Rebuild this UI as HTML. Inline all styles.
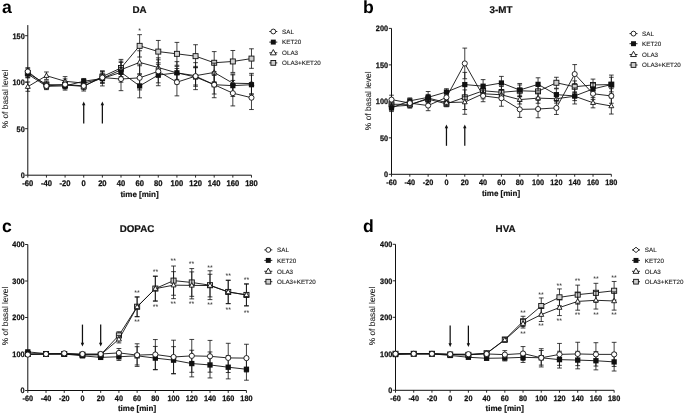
<!DOCTYPE html>
<html><head><meta charset="utf-8"><title>Figure</title>
<style>
html,body{margin:0;padding:0;background:#fff;}
body{width:684px;height:414px;overflow:hidden;font-family:"Liberation Sans",sans-serif;}
svg{display:block;text-rendering:geometricPrecision;filter:blur(0.3px);font-family:"Liberation Sans",sans-serif;}
.tk{font-size:7.85px;font-weight:bold;fill:#111;stroke:#111;stroke-width:0.25px;}
.xt{font-size:8px;font-weight:bold;fill:#111;stroke:#111;stroke-width:0.2px;}
.yl{font-size:8.4px;fill:#262626;stroke:#262626;stroke-width:0.1px;}
.ti{font-size:9.8px;font-weight:bold;fill:#111;stroke:#111;stroke-width:0.2px;}
.pl{font-size:17.6px;font-weight:bold;fill:#000;}
.lg{font-size:6.25px;fill:#222;stroke:#222;stroke-width:0.12px;}
.st{font-size:7px;fill:#222;}
</style></head><body>
<svg width="684" height="414" viewBox="0 0 684 414">
<rect width="684" height="414" fill="#fff"/>
<g id="pa">
<path d="M27.8 25.1V175.2H251.48" fill="none" stroke="#111" stroke-width="1"/>
<path d="M25.1 175.2H27.8M25.1 128.7H27.8M25.1 82.2H27.8M25.1 35.7H27.8M27.8 175.2v2.4M46.44 175.2v2.4M65.08 175.2v2.4M83.72 175.2v2.4M102.36 175.2v2.4M121 175.2v2.4M139.64 175.2v2.4M158.28 175.2v2.4M176.92 175.2v2.4M195.56 175.2v2.4M214.2 175.2v2.4M232.84 175.2v2.4M251.48 175.2v2.4" stroke="#111" stroke-width="0.9" fill="none"/>
<text class="tk" transform="translate(24.7 178) scale(0.93 1)" text-anchor="end">0</text>
<text class="tk" transform="translate(24.7 131.5) scale(0.93 1)" text-anchor="end">50</text>
<text class="tk" transform="translate(24.7 85) scale(0.93 1)" text-anchor="end">100</text>
<text class="tk" transform="translate(24.7 38.5) scale(0.93 1)" text-anchor="end">150</text>
<text class="tk" transform="translate(27.8 186.1) scale(0.93 1)" text-anchor="middle" style="font-size:8.2px">-60</text>
<text class="tk" transform="translate(46.44 186.1) scale(0.93 1)" text-anchor="middle" style="font-size:8.2px">-40</text>
<text class="tk" transform="translate(65.08 186.1) scale(0.93 1)" text-anchor="middle" style="font-size:8.2px">-20</text>
<text class="tk" transform="translate(83.72 186.1) scale(0.93 1)" text-anchor="middle" style="font-size:8.2px">0</text>
<text class="tk" transform="translate(102.36 186.1) scale(0.93 1)" text-anchor="middle" style="font-size:8.2px">20</text>
<text class="tk" transform="translate(121 186.1) scale(0.93 1)" text-anchor="middle" style="font-size:8.2px">40</text>
<text class="tk" transform="translate(139.64 186.1) scale(0.93 1)" text-anchor="middle" style="font-size:8.2px">60</text>
<text class="tk" transform="translate(158.28 186.1) scale(0.93 1)" text-anchor="middle" style="font-size:8.2px">80</text>
<text class="tk" transform="translate(176.92 186.1) scale(0.93 1)" text-anchor="middle" style="font-size:8.2px">100</text>
<text class="tk" transform="translate(195.56 186.1) scale(0.93 1)" text-anchor="middle" style="font-size:8.2px">120</text>
<text class="tk" transform="translate(214.2 186.1) scale(0.93 1)" text-anchor="middle" style="font-size:8.2px">140</text>
<text class="tk" transform="translate(232.84 186.1) scale(0.93 1)" text-anchor="middle" style="font-size:8.2px">160</text>
<text class="tk" transform="translate(251.48 186.1) scale(0.93 1)" text-anchor="middle" style="font-size:8.2px">180</text>
<text class="xt" x="139.5" y="196.8" text-anchor="middle">time [min]</text>
<text class="yl" transform="translate(7.7 99) rotate(-90)" text-anchor="middle">% of basal level</text>
<text class="ti" x="139.5" y="13.2" text-anchor="middle">DA</text>
<text class="pl" x="2" y="13.2">a</text>
<path d="M83.72 123.5V103.5" stroke="#111" stroke-width="1.25"/><path d="M83.72 101.5l1.7 3.8h-3.4z" fill="#111"/>
<path d="M102.36 123.5V103.5" stroke="#111" stroke-width="1.25"/><path d="M102.36 101.5l1.7 3.8h-3.4z" fill="#111"/>
<path d="M27.8 68.25V77.55M25.45 68.25h4.7M25.45 77.55h4.7M46.44 80.9V88.34M44.09 80.9h4.7M44.09 88.34h4.7M65.08 81.27V88.71M62.73 81.27h4.7M62.73 88.71h4.7M83.72 81.73V91.03M81.37 81.73h4.7M81.37 91.03h4.7M102.36 71.04V82.2M100.01 71.04h4.7M100.01 82.2h4.7M121 59.41V76.53M118.65 59.41h4.7M118.65 76.53h4.7M139.64 34.68V57M137.29 34.68h4.7M137.29 57h4.7M158.28 40.44V62.76M155.93 40.44h4.7M155.93 62.76h4.7M176.92 42.4V65.27M174.57 42.4h4.7M174.57 65.27h4.7M195.56 44.72V67.6M193.21 44.72h4.7M193.21 67.6h4.7M214.2 51.6V73.92M211.85 51.6h4.7M211.85 73.92h4.7M232.84 50.49V72.43M230.49 50.49h4.7M230.49 72.43h4.7M251.48 48.81V68.34M249.13 48.81h4.7M249.13 68.34h4.7" stroke="#111" stroke-width="0.8" fill="none"/>
<polyline points="27.8,72.9 46.44,84.62 65.08,84.99 83.72,86.38 102.36,76.62 121,67.97 139.64,45.84 158.28,51.6 176.92,53.83 195.56,56.16 214.2,62.76 232.84,61.46 251.48,58.58" fill="none" stroke="#111" stroke-width="0.9"/>
<rect x="25.3" y="70.4" width="5" height="5" fill="#cfcfcf" stroke="#111" stroke-width="0.9"/>
<rect x="43.94" y="82.12" width="5" height="5" fill="#cfcfcf" stroke="#111" stroke-width="0.9"/>
<rect x="62.58" y="82.49" width="5" height="5" fill="#cfcfcf" stroke="#111" stroke-width="0.9"/>
<rect x="81.22" y="83.88" width="5" height="5" fill="#cfcfcf" stroke="#111" stroke-width="0.9"/>
<rect x="99.86" y="74.12" width="5" height="5" fill="#cfcfcf" stroke="#111" stroke-width="0.9"/>
<rect x="118.5" y="65.47" width="5" height="5" fill="#cfcfcf" stroke="#111" stroke-width="0.9"/>
<rect x="137.14" y="43.34" width="5" height="5" fill="#cfcfcf" stroke="#111" stroke-width="0.9"/>
<rect x="155.78" y="49.1" width="5" height="5" fill="#cfcfcf" stroke="#111" stroke-width="0.9"/>
<rect x="174.42" y="51.33" width="5" height="5" fill="#cfcfcf" stroke="#111" stroke-width="0.9"/>
<rect x="193.06" y="53.66" width="5" height="5" fill="#cfcfcf" stroke="#111" stroke-width="0.9"/>
<rect x="211.7" y="60.26" width="5" height="5" fill="#cfcfcf" stroke="#111" stroke-width="0.9"/>
<rect x="230.34" y="58.96" width="5" height="5" fill="#cfcfcf" stroke="#111" stroke-width="0.9"/>
<rect x="248.98" y="56.08" width="5" height="5" fill="#cfcfcf" stroke="#111" stroke-width="0.9"/>
<path d="M27.8 82.01V91.31M25.45 82.01h4.7M25.45 91.31h4.7M46.44 71.97V79.41M44.09 71.97h4.7M44.09 79.41h4.7M65.08 76.62V85.92M62.73 76.62h4.7M62.73 85.92h4.7M83.72 79.41V86.85M81.37 79.41h4.7M81.37 86.85h4.7M102.36 73.83V83.13M100.01 73.83h4.7M100.01 83.13h4.7M121 61.18V78.29M118.65 61.18h4.7M118.65 78.29h4.7M139.64 50.77V74.02M137.29 50.77h4.7M137.29 74.02h4.7M158.28 57.83V77.18M155.93 57.83h4.7M155.93 77.18h4.7M176.92 66.39V79.41M174.57 66.39h4.7M174.57 79.41h4.7M195.56 66.39V84.99M193.21 66.39h4.7M193.21 84.99h4.7M214.2 63.13V81.73M211.85 63.13h4.7M211.85 81.73h4.7M232.84 73.92V92.52M230.49 73.92h4.7M230.49 92.52h4.7M251.48 73.36V93.82M249.13 73.36h4.7M249.13 93.82h4.7" stroke="#111" stroke-width="0.8" fill="none"/>
<polyline points="27.8,86.66 46.44,75.69 65.08,81.27 83.72,83.13 102.36,78.48 121,69.74 139.64,62.39 158.28,67.51 176.92,72.9 195.56,75.69 214.2,72.43 232.84,83.22 251.48,83.59" fill="none" stroke="#111" stroke-width="0.9"/>
<path d="M27.8 83.96L30.25 88.36L25.35 88.36Z" fill="#fff" stroke="#111" stroke-width="0.9"/>
<path d="M46.44 72.99L48.89 77.39L43.99 77.39Z" fill="#fff" stroke="#111" stroke-width="0.9"/>
<path d="M65.08 78.57L67.53 82.97L62.63 82.97Z" fill="#fff" stroke="#111" stroke-width="0.9"/>
<path d="M83.72 80.43L86.17 84.83L81.27 84.83Z" fill="#fff" stroke="#111" stroke-width="0.9"/>
<path d="M102.36 75.78L104.81 80.18L99.91 80.18Z" fill="#fff" stroke="#111" stroke-width="0.9"/>
<path d="M121 67.04L123.45 71.44L118.55 71.44Z" fill="#fff" stroke="#111" stroke-width="0.9"/>
<path d="M139.64 59.69L142.09 64.09L137.19 64.09Z" fill="#fff" stroke="#111" stroke-width="0.9"/>
<path d="M158.28 64.81L160.73 69.21L155.83 69.21Z" fill="#fff" stroke="#111" stroke-width="0.9"/>
<path d="M176.92 70.2L179.37 74.6L174.47 74.6Z" fill="#fff" stroke="#111" stroke-width="0.9"/>
<path d="M195.56 72.99L198.01 77.39L193.11 77.39Z" fill="#fff" stroke="#111" stroke-width="0.9"/>
<path d="M214.2 69.73L216.65 74.13L211.75 74.13Z" fill="#fff" stroke="#111" stroke-width="0.9"/>
<path d="M232.84 80.52L235.29 84.92L230.39 84.92Z" fill="#fff" stroke="#111" stroke-width="0.9"/>
<path d="M251.48 80.89L253.93 85.29L249.03 85.29Z" fill="#fff" stroke="#111" stroke-width="0.9"/>
<path d="M27.8 70.39V77.83M25.45 70.39h4.7M25.45 77.83h4.7M46.44 83.5V89.08M44.09 83.5h4.7M44.09 89.08h4.7M65.08 83.13V88.71M62.73 83.13h4.7M62.73 88.71h4.7M83.72 78.48V84.06M81.37 78.48h4.7M81.37 84.06h4.7M102.36 71.04V85.92M100.01 71.04h4.7M100.01 85.92h4.7M121 62.48V82.2M118.65 62.48h4.7M118.65 82.2h4.7M139.64 74.02V97.82M137.29 74.02h4.7M137.29 97.82h4.7M158.28 64.34V85.73M155.93 64.34h4.7M155.93 85.73h4.7M176.92 61.65V83.97M174.57 61.65h4.7M174.57 83.97h4.7M195.56 67.69V86.29M193.21 67.69h4.7M193.21 86.29h4.7M214.2 75.41V94.01M211.85 75.41h4.7M211.85 94.01h4.7M232.84 74.85V96.43M230.49 74.85h4.7M230.49 96.43h4.7M251.48 75.13V94.29M249.13 75.13h4.7M249.13 94.29h4.7" stroke="#111" stroke-width="0.8" fill="none"/>
<polyline points="27.8,74.11 46.44,86.29 65.08,85.92 83.72,81.27 102.36,78.48 121,72.34 139.64,85.92 158.28,75.04 176.92,72.81 195.56,76.99 214.2,84.71 232.84,85.64 251.48,84.71" fill="none" stroke="#111" stroke-width="0.9"/>
<rect x="25.2" y="71.51" width="5.2" height="5.2" fill="#111"/>
<rect x="43.84" y="83.69" width="5.2" height="5.2" fill="#111"/>
<rect x="62.48" y="83.32" width="5.2" height="5.2" fill="#111"/>
<rect x="81.12" y="78.67" width="5.2" height="5.2" fill="#111"/>
<rect x="99.76" y="75.88" width="5.2" height="5.2" fill="#111"/>
<rect x="118.4" y="69.74" width="5.2" height="5.2" fill="#111"/>
<rect x="137.04" y="83.32" width="5.2" height="5.2" fill="#111"/>
<rect x="155.68" y="72.44" width="5.2" height="5.2" fill="#111"/>
<rect x="174.32" y="70.21" width="5.2" height="5.2" fill="#111"/>
<rect x="192.96" y="74.39" width="5.2" height="5.2" fill="#111"/>
<rect x="211.6" y="82.11" width="5.2" height="5.2" fill="#111"/>
<rect x="230.24" y="83.04" width="5.2" height="5.2" fill="#111"/>
<rect x="248.88" y="82.11" width="5.2" height="5.2" fill="#111"/>
<path d="M27.8 67.78V75.22M25.45 67.78h4.7M25.45 75.22h4.7M46.44 82.2V89.64M44.09 82.2h4.7M44.09 89.64h4.7M65.08 78.94V90.1M62.73 78.94h4.7M62.73 90.1h4.7M83.72 82.2V89.64M81.37 82.2h4.7M81.37 89.64h4.7M102.36 71.97V83.13M100.01 71.97h4.7M100.01 83.13h4.7M121 67.41V90.66M118.65 67.41h4.7M118.65 90.66h4.7M139.64 65.74V89.92M137.29 65.74h4.7M137.29 89.92h4.7M158.28 59.79V82.85M155.93 59.79h4.7M155.93 82.85h4.7M176.92 68.53V95.87M174.57 68.53h4.7M174.57 95.87h4.7M195.56 62.67V89.64M193.21 62.67h4.7M193.21 89.64h4.7M214.2 71.69V97.73M211.85 71.69h4.7M211.85 97.73h4.7M232.84 80.43V105.91M230.49 80.43h4.7M230.49 105.91h4.7M251.48 85.92V109.54M249.13 85.92h4.7M249.13 109.54h4.7" stroke="#111" stroke-width="0.8" fill="none"/>
<polyline points="27.8,71.5 46.44,85.92 65.08,84.52 83.72,85.92 102.36,77.55 121,79.04 139.64,77.83 158.28,71.32 176.92,82.2 195.56,76.15 214.2,84.71 232.84,93.17 251.48,97.73" fill="none" stroke="#111" stroke-width="0.9"/>
<circle cx="27.8" cy="71.5" r="2.55" fill="#fff" stroke="#111" stroke-width="0.9"/>
<circle cx="46.44" cy="85.92" r="2.55" fill="#fff" stroke="#111" stroke-width="0.9"/>
<circle cx="65.08" cy="84.52" r="2.55" fill="#fff" stroke="#111" stroke-width="0.9"/>
<circle cx="83.72" cy="85.92" r="2.55" fill="#fff" stroke="#111" stroke-width="0.9"/>
<circle cx="102.36" cy="77.55" r="2.55" fill="#fff" stroke="#111" stroke-width="0.9"/>
<circle cx="121" cy="79.04" r="2.55" fill="#fff" stroke="#111" stroke-width="0.9"/>
<circle cx="139.64" cy="77.83" r="2.55" fill="#fff" stroke="#111" stroke-width="0.9"/>
<circle cx="158.28" cy="71.32" r="2.55" fill="#fff" stroke="#111" stroke-width="0.9"/>
<circle cx="176.92" cy="82.2" r="2.55" fill="#fff" stroke="#111" stroke-width="0.9"/>
<circle cx="195.56" cy="76.15" r="2.55" fill="#fff" stroke="#111" stroke-width="0.9"/>
<circle cx="214.2" cy="84.71" r="2.55" fill="#fff" stroke="#111" stroke-width="0.9"/>
<circle cx="232.84" cy="93.17" r="2.55" fill="#fff" stroke="#111" stroke-width="0.9"/>
<circle cx="251.48" cy="97.73" r="2.55" fill="#fff" stroke="#111" stroke-width="0.9"/>
<text class="st" x="139.5" y="33.3" text-anchor="middle">*</text>
<path d="M269.3 31.5h8" stroke="#111" stroke-width="0.9"/>
<circle cx="273.3" cy="31.5" r="2.42" fill="#fff" stroke="#111" stroke-width="0.9"/>
<text class="lg" x="282.1" y="33.75">SAL</text>
<path d="M269.3 42.1h8" stroke="#111" stroke-width="0.9"/>
<rect x="270.83" y="39.63" width="4.94" height="4.94" fill="#111"/>
<text class="lg" x="282.1" y="44.35">KET20</text>
<path d="M269.3 52.8h8" stroke="#111" stroke-width="0.9"/>
<path d="M273.3 49.56L276.24 54.84L270.36 54.84Z" fill="#fff" stroke="#111" stroke-width="0.9"/>
<text class="lg" x="282.1" y="55.05">OLA3</text>
<path d="M269.3 62.9h8" stroke="#111" stroke-width="0.9"/>
<rect x="270.93" y="60.52" width="4.75" height="4.75" fill="#cfcfcf" stroke="#111" stroke-width="0.9"/>
<text class="lg" x="282.1" y="65.15">OLA3+KET20</text>
</g>
<g id="pb">
<path d="M391.5 28.4V174.3H611.34" fill="none" stroke="#111" stroke-width="1"/>
<path d="M388.8 174.3H391.5M388.8 137.83H391.5M388.8 101.35H391.5M388.8 64.88H391.5M388.8 28.4H391.5M391.5 174.3v2.4M409.82 174.3v2.4M428.14 174.3v2.4M446.46 174.3v2.4M464.78 174.3v2.4M483.1 174.3v2.4M501.42 174.3v2.4M519.74 174.3v2.4M538.06 174.3v2.4M556.38 174.3v2.4M574.7 174.3v2.4M593.02 174.3v2.4M611.34 174.3v2.4" stroke="#111" stroke-width="0.9" fill="none"/>
<text class="tk" transform="translate(388 177.1) scale(0.93 1)" text-anchor="end">0</text>
<text class="tk" transform="translate(388 140.63) scale(0.93 1)" text-anchor="end">50</text>
<text class="tk" transform="translate(388 104.15) scale(0.93 1)" text-anchor="end">100</text>
<text class="tk" transform="translate(388 67.67) scale(0.93 1)" text-anchor="end">150</text>
<text class="tk" transform="translate(388 31.2) scale(0.93 1)" text-anchor="end">200</text>
<text class="tk" transform="translate(391.5 185.4) scale(0.93 1)" text-anchor="middle">-60</text>
<text class="tk" transform="translate(409.82 185.4) scale(0.93 1)" text-anchor="middle">-40</text>
<text class="tk" transform="translate(428.14 185.4) scale(0.93 1)" text-anchor="middle">-20</text>
<text class="tk" transform="translate(446.46 185.4) scale(0.93 1)" text-anchor="middle">0</text>
<text class="tk" transform="translate(464.78 185.4) scale(0.93 1)" text-anchor="middle">20</text>
<text class="tk" transform="translate(483.1 185.4) scale(0.93 1)" text-anchor="middle">40</text>
<text class="tk" transform="translate(501.42 185.4) scale(0.93 1)" text-anchor="middle">60</text>
<text class="tk" transform="translate(519.74 185.4) scale(0.93 1)" text-anchor="middle">80</text>
<text class="tk" transform="translate(538.06 185.4) scale(0.93 1)" text-anchor="middle">100</text>
<text class="tk" transform="translate(556.38 185.4) scale(0.93 1)" text-anchor="middle">120</text>
<text class="tk" transform="translate(574.7 185.4) scale(0.93 1)" text-anchor="middle">140</text>
<text class="tk" transform="translate(593.02 185.4) scale(0.93 1)" text-anchor="middle">160</text>
<text class="tk" transform="translate(611.34 185.4) scale(0.93 1)" text-anchor="middle">180</text>
<text class="xt" x="501" y="195.5" text-anchor="middle">time [min]</text>
<text class="yl" transform="translate(370.8 100.8) rotate(-90)" text-anchor="middle">% of basal level</text>
<text class="ti" x="501" y="13.2" text-anchor="middle">3-MT</text>
<text class="pl" x="363" y="13.2">b</text>
<path d="M446.46 145.8V126.5" stroke="#111" stroke-width="1.25"/><path d="M446.46 124.5l1.7 3.8h-3.4z" fill="#111"/>
<path d="M464.78 145.8V126.5" stroke="#111" stroke-width="1.25"/><path d="M464.78 124.5l1.7 3.8h-3.4z" fill="#111"/>
<path d="M391.5 100.62V107.92M389.15 100.62h4.7M389.15 107.92h4.7M409.82 101.42V107.26M407.47 101.42h4.7M407.47 107.26h4.7M428.14 95.51V102.81M425.79 95.51h4.7M425.79 102.81h4.7M446.46 100.91V106.75M444.11 100.91h4.7M444.11 106.75h4.7M464.78 85.16V109.52M462.43 85.16h4.7M462.43 109.52h4.7M483.1 84.94V96.61M480.75 84.94h4.7M480.75 96.61h4.7M501.42 86.47V98.14M499.07 86.47h4.7M499.07 98.14h4.7M519.74 84.94V96.61M517.39 84.94h4.7M517.39 96.61h4.7M538.06 85.52V97.19M535.71 85.52h4.7M535.71 97.19h4.7M556.38 77.28V88.22M554.03 77.28h4.7M554.03 88.22h4.7M574.7 80.92V92.6M572.35 80.92h4.7M572.35 92.6h4.7M593.02 79.1V90.77M590.67 79.1h4.7M590.67 90.77h4.7M611.34 77.28V91.87M608.99 77.28h4.7M608.99 91.87h4.7" stroke="#111" stroke-width="0.8" fill="none"/>
<polyline points="391.5,104.27 409.82,104.34 428.14,99.16 446.46,103.83 464.78,97.34 483.1,90.77 501.42,92.3 519.74,90.77 538.06,91.36 556.38,82.75 574.7,86.76 593.02,84.94 611.34,84.57" fill="none" stroke="#111" stroke-width="0.9"/>
<rect x="389" y="101.77" width="5" height="5" fill="#cfcfcf" stroke="#111" stroke-width="0.9"/>
<rect x="407.32" y="101.84" width="5" height="5" fill="#cfcfcf" stroke="#111" stroke-width="0.9"/>
<rect x="425.64" y="96.66" width="5" height="5" fill="#cfcfcf" stroke="#111" stroke-width="0.9"/>
<rect x="443.96" y="101.33" width="5" height="5" fill="#cfcfcf" stroke="#111" stroke-width="0.9"/>
<rect x="462.28" y="94.84" width="5" height="5" fill="#cfcfcf" stroke="#111" stroke-width="0.9"/>
<rect x="480.6" y="88.27" width="5" height="5" fill="#cfcfcf" stroke="#111" stroke-width="0.9"/>
<rect x="498.92" y="89.8" width="5" height="5" fill="#cfcfcf" stroke="#111" stroke-width="0.9"/>
<rect x="517.24" y="88.27" width="5" height="5" fill="#cfcfcf" stroke="#111" stroke-width="0.9"/>
<rect x="535.56" y="88.86" width="5" height="5" fill="#cfcfcf" stroke="#111" stroke-width="0.9"/>
<rect x="553.88" y="80.25" width="5" height="5" fill="#cfcfcf" stroke="#111" stroke-width="0.9"/>
<rect x="572.2" y="84.26" width="5" height="5" fill="#cfcfcf" stroke="#111" stroke-width="0.9"/>
<rect x="590.52" y="82.44" width="5" height="5" fill="#cfcfcf" stroke="#111" stroke-width="0.9"/>
<rect x="608.84" y="82.07" width="5" height="5" fill="#cfcfcf" stroke="#111" stroke-width="0.9"/>
<path d="M391.5 102.81V110.1M389.15 102.81h4.7M389.15 110.1h4.7M409.82 102.3V108.13M407.47 102.3h4.7M407.47 108.13h4.7M428.14 94.42V101.71M425.79 94.42h4.7M425.79 101.71h4.7M446.46 99.67V105.51M444.11 99.67h4.7M444.11 105.51h4.7M464.78 89.9V114.26M462.43 89.9h4.7M462.43 114.26h4.7M483.1 88.66V98.87M480.75 88.66h4.7M480.75 98.87h4.7M501.42 89.68V99.89M499.07 89.68h4.7M499.07 99.89h4.7M519.74 95.22V103.98M517.39 95.22h4.7M517.39 103.98h4.7M538.06 93.03V103.25M535.71 93.03h4.7M535.71 103.25h4.7M556.38 94.35V103.1M554.03 94.35h4.7M554.03 103.1h4.7M574.7 91.87V100.62M572.35 91.87h4.7M572.35 100.62h4.7M593.02 97.63V107.84M590.67 97.63h4.7M590.67 107.84h4.7M611.34 97.99V114.04M608.99 97.99h4.7M608.99 114.04h4.7" stroke="#111" stroke-width="0.8" fill="none"/>
<polyline points="391.5,106.46 409.82,105.22 428.14,98.07 446.46,102.59 464.78,102.08 483.1,93.76 501.42,94.78 519.74,99.6 538.06,98.14 556.38,98.72 574.7,96.24 593.02,102.74 611.34,106.02" fill="none" stroke="#111" stroke-width="0.9"/>
<path d="M391.5 103.76L393.95 108.16L389.05 108.16Z" fill="#fff" stroke="#111" stroke-width="0.9"/>
<path d="M409.82 102.52L412.27 106.92L407.37 106.92Z" fill="#fff" stroke="#111" stroke-width="0.9"/>
<path d="M428.14 95.37L430.59 99.77L425.69 99.77Z" fill="#fff" stroke="#111" stroke-width="0.9"/>
<path d="M446.46 99.89L448.91 104.29L444.01 104.29Z" fill="#fff" stroke="#111" stroke-width="0.9"/>
<path d="M464.78 99.38L467.23 103.78L462.33 103.78Z" fill="#fff" stroke="#111" stroke-width="0.9"/>
<path d="M483.1 91.06L485.55 95.46L480.65 95.46Z" fill="#fff" stroke="#111" stroke-width="0.9"/>
<path d="M501.42 92.08L503.87 96.48L498.97 96.48Z" fill="#fff" stroke="#111" stroke-width="0.9"/>
<path d="M519.74 96.9L522.19 101.3L517.29 101.3Z" fill="#fff" stroke="#111" stroke-width="0.9"/>
<path d="M538.06 95.44L540.51 99.84L535.61 99.84Z" fill="#fff" stroke="#111" stroke-width="0.9"/>
<path d="M556.38 96.02L558.83 100.42L553.93 100.42Z" fill="#fff" stroke="#111" stroke-width="0.9"/>
<path d="M574.7 93.54L577.15 97.94L572.25 97.94Z" fill="#fff" stroke="#111" stroke-width="0.9"/>
<path d="M593.02 100.04L595.47 104.44L590.57 104.44Z" fill="#fff" stroke="#111" stroke-width="0.9"/>
<path d="M611.34 103.32L613.79 107.72L608.89 107.72Z" fill="#fff" stroke="#111" stroke-width="0.9"/>
<path d="M391.5 104.27V111.56M389.15 104.27h4.7M389.15 111.56h4.7M409.82 97.92V103.76M407.47 97.92h4.7M407.47 103.76h4.7M428.14 91.5V103.17M425.79 91.5h4.7M425.79 103.17h4.7M446.46 88.73V95.3M444.11 88.73h4.7M444.11 95.3h4.7M464.78 72.39V96.75M462.43 72.39h4.7M462.43 96.75h4.7M483.1 79.61V92.74M480.75 79.61h4.7M480.75 92.74h4.7M501.42 76.4V89.53M499.07 76.4h4.7M499.07 89.53h4.7M519.74 83.48V96.61M517.39 83.48h4.7M517.39 96.61h4.7M538.06 77.79V90.92M535.71 77.79h4.7M535.71 90.92h4.7M556.38 88.8V100.47M554.03 88.8h4.7M554.03 100.47h4.7M574.7 87.93V103.98M572.35 87.93h4.7M572.35 103.98h4.7M593.02 83.11V94.78M590.67 83.11h4.7M590.67 94.78h4.7M611.34 75.09V94.06M608.99 75.09h4.7M608.99 94.06h4.7" stroke="#111" stroke-width="0.8" fill="none"/>
<polyline points="391.5,107.92 409.82,100.84 428.14,97.34 446.46,92.01 464.78,84.57 483.1,86.18 501.42,82.97 519.74,90.04 538.06,84.35 556.38,94.64 574.7,95.95 593.02,88.95 611.34,84.57" fill="none" stroke="#111" stroke-width="0.9"/>
<rect x="388.9" y="105.32" width="5.2" height="5.2" fill="#111"/>
<rect x="407.22" y="98.24" width="5.2" height="5.2" fill="#111"/>
<rect x="425.54" y="94.74" width="5.2" height="5.2" fill="#111"/>
<rect x="443.86" y="89.41" width="5.2" height="5.2" fill="#111"/>
<rect x="462.18" y="81.97" width="5.2" height="5.2" fill="#111"/>
<rect x="480.5" y="83.58" width="5.2" height="5.2" fill="#111"/>
<rect x="498.82" y="80.37" width="5.2" height="5.2" fill="#111"/>
<rect x="517.14" y="87.44" width="5.2" height="5.2" fill="#111"/>
<rect x="535.46" y="81.75" width="5.2" height="5.2" fill="#111"/>
<rect x="553.78" y="92.04" width="5.2" height="5.2" fill="#111"/>
<rect x="572.1" y="93.35" width="5.2" height="5.2" fill="#111"/>
<rect x="590.42" y="86.35" width="5.2" height="5.2" fill="#111"/>
<rect x="608.74" y="81.97" width="5.2" height="5.2" fill="#111"/>
<path d="M391.5 95.22V103.98M389.15 95.22h4.7M389.15 103.98h4.7M409.82 100.18V106.02M407.47 100.18h4.7M407.47 106.02h4.7M428.14 100.47V110.69M425.79 100.47h4.7M425.79 110.69h4.7M446.46 93.69V100.99M444.11 93.69h4.7M444.11 100.99h4.7M464.78 48.1V78.74M462.43 48.1h4.7M462.43 78.74h4.7M483.1 90.04V101.71M480.75 90.04h4.7M480.75 101.71h4.7M501.42 90.19V106.24M499.07 90.19h4.7M499.07 106.24h4.7M519.74 101.35V117.4M517.39 101.35h4.7M517.39 117.4h4.7M538.06 100.26V117.76M535.71 100.26h4.7M535.71 117.76h4.7M556.38 101.35V114.48M554.03 101.35h4.7M554.03 114.48h4.7M574.7 64.58V83.55M572.35 64.58h4.7M572.35 83.55h4.7M593.02 87.93V99.6M590.67 87.93h4.7M590.67 99.6h4.7M611.34 88.66V103.25M608.99 88.66h4.7M608.99 103.25h4.7" stroke="#111" stroke-width="0.8" fill="none"/>
<polyline points="391.5,99.6 409.82,103.1 428.14,105.58 446.46,97.34 464.78,63.42 483.1,95.88 501.42,98.21 519.74,109.37 538.06,109.01 556.38,107.92 574.7,74.07 593.02,93.76 611.34,95.95" fill="none" stroke="#111" stroke-width="0.9"/>
<circle cx="391.5" cy="99.6" r="2.55" fill="#fff" stroke="#111" stroke-width="0.9"/>
<circle cx="409.82" cy="103.1" r="2.55" fill="#fff" stroke="#111" stroke-width="0.9"/>
<circle cx="428.14" cy="105.58" r="2.55" fill="#fff" stroke="#111" stroke-width="0.9"/>
<circle cx="446.46" cy="97.34" r="2.55" fill="#fff" stroke="#111" stroke-width="0.9"/>
<circle cx="464.78" cy="63.42" r="2.55" fill="#fff" stroke="#111" stroke-width="0.9"/>
<circle cx="483.1" cy="95.88" r="2.55" fill="#fff" stroke="#111" stroke-width="0.9"/>
<circle cx="501.42" cy="98.21" r="2.55" fill="#fff" stroke="#111" stroke-width="0.9"/>
<circle cx="519.74" cy="109.37" r="2.55" fill="#fff" stroke="#111" stroke-width="0.9"/>
<circle cx="538.06" cy="109.01" r="2.55" fill="#fff" stroke="#111" stroke-width="0.9"/>
<circle cx="556.38" cy="107.92" r="2.55" fill="#fff" stroke="#111" stroke-width="0.9"/>
<circle cx="574.7" cy="74.07" r="2.55" fill="#fff" stroke="#111" stroke-width="0.9"/>
<circle cx="593.02" cy="93.76" r="2.55" fill="#fff" stroke="#111" stroke-width="0.9"/>
<circle cx="611.34" cy="95.95" r="2.55" fill="#fff" stroke="#111" stroke-width="0.9"/>
<path d="M629.5 33.6h8" stroke="#111" stroke-width="0.9"/>
<circle cx="633.5" cy="33.6" r="2.42" fill="#fff" stroke="#111" stroke-width="0.9"/>
<text class="lg" x="642.1" y="35.85">SAL</text>
<path d="M629.5 43.7h8" stroke="#111" stroke-width="0.9"/>
<rect x="631.03" y="41.23" width="4.94" height="4.94" fill="#111"/>
<text class="lg" x="642.1" y="45.95">KET20</text>
<path d="M629.5 54.5h8" stroke="#111" stroke-width="0.9"/>
<path d="M633.5 51.26L636.44 56.54L630.56 56.54Z" fill="#fff" stroke="#111" stroke-width="0.9"/>
<text class="lg" x="642.1" y="56.75">OLA3</text>
<path d="M629.5 65h8" stroke="#111" stroke-width="0.9"/>
<rect x="631.12" y="62.62" width="4.75" height="4.75" fill="#cfcfcf" stroke="#111" stroke-width="0.9"/>
<text class="lg" x="642.1" y="67.25">OLA3+KET20</text>
</g>
<g id="pc">
<path d="M27.8 244.5V390.5H246.44" fill="none" stroke="#111" stroke-width="1"/>
<path d="M25.1 390.5H27.8M25.1 354H27.8M25.1 317.5H27.8M25.1 281H27.8M25.1 244.5H27.8M27.8 390.5v2.4M46.02 390.5v2.4M64.24 390.5v2.4M82.46 390.5v2.4M100.68 390.5v2.4M118.9 390.5v2.4M137.12 390.5v2.4M155.34 390.5v2.4M173.56 390.5v2.4M191.78 390.5v2.4M210 390.5v2.4M228.22 390.5v2.4M246.44 390.5v2.4" stroke="#111" stroke-width="0.9" fill="none"/>
<text class="tk" transform="translate(24.5 393.3) scale(0.93 1)" text-anchor="end">0</text>
<text class="tk" transform="translate(24.5 356.8) scale(0.93 1)" text-anchor="end">100</text>
<text class="tk" transform="translate(24.5 320.3) scale(0.93 1)" text-anchor="end">200</text>
<text class="tk" transform="translate(24.5 283.8) scale(0.93 1)" text-anchor="end">300</text>
<text class="tk" transform="translate(24.5 247.3) scale(0.93 1)" text-anchor="end">400</text>
<text class="tk" transform="translate(27.8 400.7) scale(0.93 1)" text-anchor="middle">-60</text>
<text class="tk" transform="translate(46.02 400.7) scale(0.93 1)" text-anchor="middle">-40</text>
<text class="tk" transform="translate(64.24 400.7) scale(0.93 1)" text-anchor="middle">-20</text>
<text class="tk" transform="translate(82.46 400.7) scale(0.93 1)" text-anchor="middle">0</text>
<text class="tk" transform="translate(100.68 400.7) scale(0.93 1)" text-anchor="middle">20</text>
<text class="tk" transform="translate(118.9 400.7) scale(0.93 1)" text-anchor="middle">40</text>
<text class="tk" transform="translate(137.12 400.7) scale(0.93 1)" text-anchor="middle">60</text>
<text class="tk" transform="translate(155.34 400.7) scale(0.93 1)" text-anchor="middle">80</text>
<text class="tk" transform="translate(173.56 400.7) scale(0.93 1)" text-anchor="middle">100</text>
<text class="tk" transform="translate(191.78 400.7) scale(0.93 1)" text-anchor="middle">120</text>
<text class="tk" transform="translate(210 400.7) scale(0.93 1)" text-anchor="middle">140</text>
<text class="tk" transform="translate(228.22 400.7) scale(0.93 1)" text-anchor="middle">160</text>
<text class="tk" transform="translate(246.44 400.7) scale(0.93 1)" text-anchor="middle">180</text>
<text class="xt" x="137" y="411.4" text-anchor="middle">time [min]</text>
<text class="yl" transform="translate(7.7 316) rotate(-90)" text-anchor="middle">% of basal level</text>
<text class="ti" x="137" y="232.3" text-anchor="middle">DOPAC</text>
<text class="pl" x="2" y="231.6">c</text>
<path d="M82.46 324.6V344.6" stroke="#111" stroke-width="1.25"/><path d="M82.46 346.6l1.7 -3.8h-3.4z" fill="#111"/>
<path d="M100.68 324.6V344.6" stroke="#111" stroke-width="1.25"/><path d="M100.68 346.6l1.7 -3.8h-3.4z" fill="#111"/>
<path d="M27.8 352.9V355.1M25.4 352.9h4.79M25.4 355.1h4.79M46.02 353.27V354.73M43.62 353.27h4.79M43.62 354.73h4.79M64.24 353.27V354.73M61.84 353.27h4.79M61.84 354.73h4.79M82.46 354V355.46M80.06 354h4.79M80.06 355.46h4.79M100.68 353.63V355.82M98.28 353.63h4.79M98.28 355.82h4.79M118.9 331.74V339.04M116.5 331.74h4.79M116.5 339.04h4.79M137.12 296.88V316.59M134.72 296.88h4.79M134.72 316.59h4.79M155.34 276.18V301M152.94 276.18h4.79M152.94 301h4.79M173.56 266.03V295.24M171.16 266.03h4.79M171.16 295.24h4.79M191.78 268.59V296.33M189.38 268.59h4.79M189.38 296.33h4.79M210 270.78V299.62M207.6 270.78h4.79M207.6 299.62h4.79M228.22 280.27V303.63M225.82 280.27h4.79M225.82 303.63h4.79M246.44 283.99V305.89M244.04 283.99h4.79M244.04 305.89h4.79" stroke="#111" stroke-width="0.8" fill="none"/>
<polyline points="27.8,354 46.02,354 64.24,354 82.46,354.73 100.68,354.73 118.9,335.38 137.12,306.73 155.34,288.59 173.56,280.63 191.78,282.46 210,285.2 228.22,291.95 246.44,294.94" fill="none" stroke="#111" stroke-width="0.9"/>
<rect x="25.25" y="351.45" width="5.1" height="5.1" fill="#cfcfcf" stroke="#111" stroke-width="0.9"/>
<rect x="43.47" y="351.45" width="5.1" height="5.1" fill="#cfcfcf" stroke="#111" stroke-width="0.9"/>
<rect x="61.69" y="351.45" width="5.1" height="5.1" fill="#cfcfcf" stroke="#111" stroke-width="0.9"/>
<rect x="79.91" y="352.18" width="5.1" height="5.1" fill="#cfcfcf" stroke="#111" stroke-width="0.9"/>
<rect x="98.13" y="352.18" width="5.1" height="5.1" fill="#cfcfcf" stroke="#111" stroke-width="0.9"/>
<rect x="116.35" y="332.83" width="5.1" height="5.1" fill="#cfcfcf" stroke="#111" stroke-width="0.9"/>
<rect x="134.57" y="304.18" width="5.1" height="5.1" fill="#cfcfcf" stroke="#111" stroke-width="0.9"/>
<rect x="152.79" y="286.04" width="5.1" height="5.1" fill="#cfcfcf" stroke="#111" stroke-width="0.9"/>
<rect x="171.01" y="278.08" width="5.1" height="5.1" fill="#cfcfcf" stroke="#111" stroke-width="0.9"/>
<rect x="189.23" y="279.91" width="5.1" height="5.1" fill="#cfcfcf" stroke="#111" stroke-width="0.9"/>
<rect x="207.45" y="282.65" width="5.1" height="5.1" fill="#cfcfcf" stroke="#111" stroke-width="0.9"/>
<rect x="225.67" y="289.4" width="5.1" height="5.1" fill="#cfcfcf" stroke="#111" stroke-width="0.9"/>
<rect x="243.89" y="292.39" width="5.1" height="5.1" fill="#cfcfcf" stroke="#111" stroke-width="0.9"/>
<path d="M27.8 352.9V355.1M25.4 352.9h4.79M25.4 355.1h4.79M46.02 353.27V354.73M43.62 353.27h4.79M43.62 354.73h4.79M64.24 353.27V354.73M61.84 353.27h4.79M61.84 354.73h4.79M82.46 354V355.46M80.06 354h4.79M80.06 355.46h4.79M100.68 353.63V355.82M98.28 353.63h4.79M98.28 355.82h4.79M118.9 335.6V342.9M116.5 335.6h4.79M116.5 342.9h4.79M137.12 297.06V316.77M134.72 297.06h4.79M134.72 316.77h4.79M155.34 276.25V301.07M152.94 276.25h4.79M152.94 301.07h4.79M173.56 271.66V298.67M171.16 271.66h4.79M171.16 298.67h4.79M191.78 271.88V298.88M189.38 271.88h4.79M189.38 298.88h4.79M210 274.25V296.88M207.6 274.25h4.79M207.6 296.88h4.79M228.22 280.27V303.63M225.82 280.27h4.79M225.82 303.63h4.79M246.44 283.92V305.82M244.04 283.92h4.79M244.04 305.82h4.79" stroke="#111" stroke-width="0.8" fill="none"/>
<polyline points="27.8,354 46.02,354 64.24,354 82.46,354.73 100.68,354.73 118.9,339.25 137.12,306.92 155.34,288.67 173.56,285.16 191.78,285.38 210,285.56 228.22,291.95 246.44,294.87" fill="none" stroke="#111" stroke-width="0.9"/>
<path d="M27.8 351.25L30.3 355.73L25.3 355.73Z" fill="#fff" stroke="#111" stroke-width="0.9"/>
<path d="M46.02 351.25L48.52 355.73L43.52 355.73Z" fill="#fff" stroke="#111" stroke-width="0.9"/>
<path d="M64.24 351.25L66.74 355.73L61.74 355.73Z" fill="#fff" stroke="#111" stroke-width="0.9"/>
<path d="M82.46 351.98L84.96 356.46L79.96 356.46Z" fill="#fff" stroke="#111" stroke-width="0.9"/>
<path d="M100.68 351.98L103.18 356.46L98.18 356.46Z" fill="#fff" stroke="#111" stroke-width="0.9"/>
<path d="M118.9 336.5L121.4 340.99L116.4 340.99Z" fill="#fff" stroke="#111" stroke-width="0.9"/>
<path d="M137.12 304.16L139.62 308.65L134.62 308.65Z" fill="#fff" stroke="#111" stroke-width="0.9"/>
<path d="M155.34 285.91L157.84 290.4L152.84 290.4Z" fill="#fff" stroke="#111" stroke-width="0.9"/>
<path d="M173.56 282.41L176.06 286.89L171.06 286.89Z" fill="#fff" stroke="#111" stroke-width="0.9"/>
<path d="M191.78 282.63L194.28 287.11L189.28 287.11Z" fill="#fff" stroke="#111" stroke-width="0.9"/>
<path d="M210 282.81L212.5 287.3L207.5 287.3Z" fill="#fff" stroke="#111" stroke-width="0.9"/>
<path d="M228.22 289.2L230.72 293.68L225.72 293.68Z" fill="#fff" stroke="#111" stroke-width="0.9"/>
<path d="M246.44 292.12L248.94 296.6L243.94 296.6Z" fill="#fff" stroke="#111" stroke-width="0.9"/>
<path d="M27.8 350.79V352.98M25.4 350.79h4.79M25.4 352.98h4.79M46.02 352.9V354.37M43.62 352.9h4.79M43.62 354.37h4.79M64.24 353.27V354.73M61.84 353.27h4.79M61.84 354.73h4.79M82.46 355.1V356.56M80.06 355.1h4.79M80.06 356.56h4.79M100.68 356.3V358.49M98.28 356.3h4.79M98.28 358.49h4.79M118.9 353.12V360.42M116.5 353.12h4.79M116.5 360.42h4.79M137.12 346.7V364.95M134.72 346.7h4.79M134.72 364.95h4.79M155.34 346.44V369.8M152.94 346.44h4.79M152.94 369.8h4.79M173.56 346.66V373.67M171.16 346.66h4.79M171.16 373.67h4.79M191.78 350.24V376.89M189.38 350.24h4.79M189.38 376.89h4.79M210 351.96V377.94M207.6 351.96h4.79M207.6 377.94h4.79M228.22 355.53V378.89M225.82 355.53h4.79M225.82 378.89h4.79M246.44 358.31V380.21M244.04 358.31h4.79M244.04 380.21h4.79" stroke="#111" stroke-width="0.8" fill="none"/>
<polyline points="27.8,351.88 46.02,353.63 64.24,354 82.46,355.82 100.68,357.39 118.9,356.77 137.12,355.82 155.34,358.12 173.56,360.17 191.78,363.56 210,364.95 228.22,367.21 246.44,369.26" fill="none" stroke="#111" stroke-width="0.9"/>
<rect x="25.15" y="349.23" width="5.3" height="5.3" fill="#111"/>
<rect x="43.37" y="350.98" width="5.3" height="5.3" fill="#111"/>
<rect x="61.59" y="351.35" width="5.3" height="5.3" fill="#111"/>
<rect x="79.81" y="353.17" width="5.3" height="5.3" fill="#111"/>
<rect x="98.03" y="354.74" width="5.3" height="5.3" fill="#111"/>
<rect x="116.25" y="354.12" width="5.3" height="5.3" fill="#111"/>
<rect x="134.47" y="353.17" width="5.3" height="5.3" fill="#111"/>
<rect x="152.69" y="355.47" width="5.3" height="5.3" fill="#111"/>
<rect x="170.91" y="357.52" width="5.3" height="5.3" fill="#111"/>
<rect x="189.13" y="360.91" width="5.3" height="5.3" fill="#111"/>
<rect x="207.35" y="362.3" width="5.3" height="5.3" fill="#111"/>
<rect x="225.57" y="364.56" width="5.3" height="5.3" fill="#111"/>
<rect x="243.79" y="366.61" width="5.3" height="5.3" fill="#111"/>
<path d="M27.8 353.53V355.72M25.4 353.53h4.79M25.4 355.72h4.79M46.02 353.27V354.73M43.62 353.27h4.79M43.62 354.73h4.79M64.24 352.61V354.07M61.84 352.61h4.79M61.84 354.07h4.79M82.46 353.27V354.73M80.06 353.27h4.79M80.06 354.73h4.79M100.68 352.9V355.1M98.28 352.9h4.79M98.28 355.1h4.79M118.9 348.52V357.29M116.5 348.52h4.79M116.5 357.29h4.79M137.12 343.78V366.41M134.72 343.78h4.79M134.72 366.41h4.79M155.34 339.55V369.48M152.94 339.55h4.79M152.94 369.48h4.79M173.56 340.2V373.78M171.16 340.2h4.79M171.16 373.78h4.79M191.78 339.44V372.29M189.38 339.44h4.79M189.38 372.29h4.79M210 340.42V372.18M207.6 340.42h4.79M207.6 372.18h4.79M228.22 343.31V372.51M225.82 343.31h4.79M225.82 372.51h4.79M246.44 344.25V371.99M244.04 344.25h4.79M244.04 371.99h4.79" stroke="#111" stroke-width="0.8" fill="none"/>
<polyline points="27.8,354.62 46.02,354 64.24,353.34 82.46,354 100.68,354 118.9,352.9 137.12,355.1 155.34,354.51 173.56,356.99 191.78,355.86 210,356.3 228.22,357.91 246.44,358.12" fill="none" stroke="#111" stroke-width="0.9"/>
<circle cx="27.8" cy="354.62" r="2.6" fill="#fff" stroke="#111" stroke-width="0.9"/>
<circle cx="46.02" cy="354" r="2.6" fill="#fff" stroke="#111" stroke-width="0.9"/>
<circle cx="64.24" cy="353.34" r="2.6" fill="#fff" stroke="#111" stroke-width="0.9"/>
<circle cx="82.46" cy="354" r="2.6" fill="#fff" stroke="#111" stroke-width="0.9"/>
<circle cx="100.68" cy="354" r="2.6" fill="#fff" stroke="#111" stroke-width="0.9"/>
<circle cx="118.9" cy="352.9" r="2.6" fill="#fff" stroke="#111" stroke-width="0.9"/>
<circle cx="137.12" cy="355.1" r="2.6" fill="#fff" stroke="#111" stroke-width="0.9"/>
<circle cx="155.34" cy="354.51" r="2.6" fill="#fff" stroke="#111" stroke-width="0.9"/>
<circle cx="173.56" cy="356.99" r="2.6" fill="#fff" stroke="#111" stroke-width="0.9"/>
<circle cx="191.78" cy="355.86" r="2.6" fill="#fff" stroke="#111" stroke-width="0.9"/>
<circle cx="210" cy="356.3" r="2.6" fill="#fff" stroke="#111" stroke-width="0.9"/>
<circle cx="228.22" cy="357.91" r="2.6" fill="#fff" stroke="#111" stroke-width="0.9"/>
<circle cx="246.44" cy="358.12" r="2.6" fill="#fff" stroke="#111" stroke-width="0.9"/>
<text class="st" x="137" y="294.6" text-anchor="middle">**</text>
<text class="st" x="155.4" y="274.4" text-anchor="middle">**</text>
<text class="st" x="173.3" y="263" text-anchor="middle">**</text>
<text class="st" x="191.5" y="266.2" text-anchor="middle">**</text>
<text class="st" x="209.9" y="269.6" text-anchor="middle">**</text>
<text class="st" x="228.2" y="277.8" text-anchor="middle">**</text>
<text class="st" x="246.4" y="282.3" text-anchor="middle">**</text>
<text class="st" x="137" y="323.6" text-anchor="middle">**</text>
<text class="st" x="155.4" y="308.9" text-anchor="middle">**</text>
<text class="st" x="173.3" y="305.5" text-anchor="middle">**</text>
<text class="st" x="191.5" y="306.2" text-anchor="middle">**</text>
<text class="st" x="209.9" y="307.1" text-anchor="middle">**</text>
<text class="st" x="228.2" y="311.6" text-anchor="middle">**</text>
<text class="st" x="246.4" y="314.6" text-anchor="middle">**</text>
<path d="M264.3 249.9h8" stroke="#111" stroke-width="0.9"/>
<circle cx="268.3" cy="249.9" r="2.42" fill="#fff" stroke="#111" stroke-width="0.9"/>
<text class="lg" x="277.1" y="252.15">SAL</text>
<path d="M264.3 260.4h8" stroke="#111" stroke-width="0.9"/>
<rect x="265.83" y="257.93" width="4.94" height="4.94" fill="#111"/>
<text class="lg" x="277.1" y="262.65">KET20</text>
<path d="M264.3 271.3h8" stroke="#111" stroke-width="0.9"/>
<path d="M268.3 268.06L271.24 273.34L265.36 273.34Z" fill="#fff" stroke="#111" stroke-width="0.9"/>
<text class="lg" x="277.1" y="273.55">OLA3</text>
<path d="M264.3 281.7h8" stroke="#111" stroke-width="0.9"/>
<rect x="265.93" y="279.32" width="4.75" height="4.75" fill="#cfcfcf" stroke="#111" stroke-width="0.9"/>
<text class="lg" x="277.1" y="283.95">OLA3+KET20</text>
</g>
<g id="pd">
<path d="M395.5 244.3V390.3H614.14" fill="none" stroke="#111" stroke-width="1"/>
<path d="M392.8 390.3H395.5M392.8 353.8H395.5M392.8 317.3H395.5M392.8 280.8H395.5M392.8 244.3H395.5M395.5 390.3v2.4M413.72 390.3v2.4M431.94 390.3v2.4M450.16 390.3v2.4M468.38 390.3v2.4M486.6 390.3v2.4M504.82 390.3v2.4M523.04 390.3v2.4M541.26 390.3v2.4M559.48 390.3v2.4M577.7 390.3v2.4M595.92 390.3v2.4M614.14 390.3v2.4" stroke="#111" stroke-width="0.9" fill="none"/>
<text class="tk" transform="translate(392.3 393.1) scale(0.93 1)" text-anchor="end">0</text>
<text class="tk" transform="translate(392.3 356.6) scale(0.93 1)" text-anchor="end">100</text>
<text class="tk" transform="translate(392.3 320.1) scale(0.93 1)" text-anchor="end">200</text>
<text class="tk" transform="translate(392.3 283.6) scale(0.93 1)" text-anchor="end">300</text>
<text class="tk" transform="translate(392.3 247.1) scale(0.93 1)" text-anchor="end">400</text>
<text class="tk" transform="translate(395.5 400.7) scale(0.93 1)" text-anchor="middle">-60</text>
<text class="tk" transform="translate(413.72 400.7) scale(0.93 1)" text-anchor="middle">-40</text>
<text class="tk" transform="translate(431.94 400.7) scale(0.93 1)" text-anchor="middle">-20</text>
<text class="tk" transform="translate(450.16 400.7) scale(0.93 1)" text-anchor="middle">0</text>
<text class="tk" transform="translate(468.38 400.7) scale(0.93 1)" text-anchor="middle">20</text>
<text class="tk" transform="translate(486.6 400.7) scale(0.93 1)" text-anchor="middle">40</text>
<text class="tk" transform="translate(504.82 400.7) scale(0.93 1)" text-anchor="middle">60</text>
<text class="tk" transform="translate(523.04 400.7) scale(0.93 1)" text-anchor="middle">80</text>
<text class="tk" transform="translate(541.26 400.7) scale(0.93 1)" text-anchor="middle">100</text>
<text class="tk" transform="translate(559.48 400.7) scale(0.93 1)" text-anchor="middle">120</text>
<text class="tk" transform="translate(577.7 400.7) scale(0.93 1)" text-anchor="middle">140</text>
<text class="tk" transform="translate(595.92 400.7) scale(0.93 1)" text-anchor="middle">160</text>
<text class="tk" transform="translate(614.14 400.7) scale(0.93 1)" text-anchor="middle">180</text>
<text class="xt" x="504.7" y="411.4" text-anchor="middle">time [min]</text>
<text class="yl" transform="translate(375.1 316) rotate(-90)" text-anchor="middle">% of basal level</text>
<text class="ti" x="505.6" y="232.3" text-anchor="middle">HVA</text>
<text class="pl" x="363" y="231.6">d</text>
<path d="M450.16 325.6V345" stroke="#111" stroke-width="1.25"/><path d="M450.16 347l1.7 -3.8h-3.4z" fill="#111"/>
<path d="M468.38 325.6V345" stroke="#111" stroke-width="1.25"/><path d="M468.38 347l1.7 -3.8h-3.4z" fill="#111"/>
<path d="M395.5 353.07V354.53M393.1 353.07h4.79M393.1 354.53h4.79M413.72 353.07V354.53M411.32 353.07h4.79M411.32 354.53h4.79M431.94 353.07V354.53M429.54 353.07h4.79M429.54 354.53h4.79M450.16 353.8V355.26M447.76 353.8h4.79M447.76 355.26h4.79M468.38 354.17V355.62M465.98 354.17h4.79M465.98 355.62h4.79M486.6 351.79V354.71M484.2 351.79h4.79M484.2 354.71h4.79M504.82 337.38V341.75M502.42 337.38h4.79M502.42 341.75h4.79M523.04 316.28V326.5M520.64 316.28h4.79M520.64 326.5h4.79M541.26 297.96V314.01M538.86 297.96h4.79M538.86 314.01h4.79M559.48 288.94V305.73M557.08 288.94h4.79M557.08 305.73h4.79M577.7 285.14V304.12M575.3 285.14h4.79M575.3 304.12h4.79M595.92 283.32V302.3M593.52 283.32h4.79M593.52 302.3h4.79M614.14 281.46V300.07M611.74 281.46h4.79M611.74 300.07h4.79" stroke="#111" stroke-width="0.8" fill="none"/>
<polyline points="395.5,353.8 413.72,353.8 431.94,353.8 450.16,354.53 468.38,354.89 486.6,353.25 504.82,339.56 523.04,321.39 541.26,305.99 559.48,297.33 577.7,294.63 595.92,292.81 614.14,290.76" fill="none" stroke="#111" stroke-width="0.9"/>
<rect x="392.95" y="351.25" width="5.1" height="5.1" fill="#cfcfcf" stroke="#111" stroke-width="0.9"/>
<rect x="411.17" y="351.25" width="5.1" height="5.1" fill="#cfcfcf" stroke="#111" stroke-width="0.9"/>
<rect x="429.39" y="351.25" width="5.1" height="5.1" fill="#cfcfcf" stroke="#111" stroke-width="0.9"/>
<rect x="447.61" y="351.98" width="5.1" height="5.1" fill="#cfcfcf" stroke="#111" stroke-width="0.9"/>
<rect x="465.83" y="352.34" width="5.1" height="5.1" fill="#cfcfcf" stroke="#111" stroke-width="0.9"/>
<rect x="484.05" y="350.7" width="5.1" height="5.1" fill="#cfcfcf" stroke="#111" stroke-width="0.9"/>
<rect x="502.27" y="337.01" width="5.1" height="5.1" fill="#cfcfcf" stroke="#111" stroke-width="0.9"/>
<rect x="520.49" y="318.84" width="5.1" height="5.1" fill="#cfcfcf" stroke="#111" stroke-width="0.9"/>
<rect x="538.71" y="303.44" width="5.1" height="5.1" fill="#cfcfcf" stroke="#111" stroke-width="0.9"/>
<rect x="556.93" y="294.78" width="5.1" height="5.1" fill="#cfcfcf" stroke="#111" stroke-width="0.9"/>
<rect x="575.15" y="292.08" width="5.1" height="5.1" fill="#cfcfcf" stroke="#111" stroke-width="0.9"/>
<rect x="593.37" y="290.26" width="5.1" height="5.1" fill="#cfcfcf" stroke="#111" stroke-width="0.9"/>
<rect x="611.59" y="288.21" width="5.1" height="5.1" fill="#cfcfcf" stroke="#111" stroke-width="0.9"/>
<path d="M395.5 353.07V354.53M393.1 353.07h4.79M393.1 354.53h4.79M413.72 353.07V354.53M411.32 353.07h4.79M411.32 354.53h4.79M431.94 353.07V354.53M429.54 353.07h4.79M429.54 354.53h4.79M450.16 353.8V355.26M447.76 353.8h4.79M447.76 355.26h4.79M468.38 354.17V355.62M465.98 354.17h4.79M465.98 355.62h4.79M486.6 351.98V354.89M484.2 351.98h4.79M484.2 354.89h4.79M504.82 337.74V342.12M502.42 337.74h4.79M502.42 342.12h4.79M523.04 319.27V328.03M520.64 319.27h4.79M520.64 328.03h4.79M541.26 307.66V321.53M538.86 307.66h4.79M538.86 321.53h4.79M559.48 299.52V315.58M557.08 299.52h4.79M557.08 315.58h4.79M577.7 292.66V310.18M575.3 292.66h4.79M575.3 310.18h4.79M595.92 291.53V309.05M593.52 291.53h4.79M593.52 309.05h4.79M614.14 291.86V310.11M611.74 291.86h4.79M611.74 310.11h4.79" stroke="#111" stroke-width="0.8" fill="none"/>
<polyline points="395.5,353.8 413.72,353.8 431.94,353.8 450.16,354.53 468.38,354.89 486.6,353.44 504.82,339.93 523.04,323.65 541.26,314.6 559.48,307.55 577.7,301.42 595.92,300.29 614.14,300.98" fill="none" stroke="#111" stroke-width="0.9"/>
<path d="M395.5 351.05L398 355.53L393 355.53Z" fill="#fff" stroke="#111" stroke-width="0.9"/>
<path d="M413.72 351.05L416.22 355.53L411.22 355.53Z" fill="#fff" stroke="#111" stroke-width="0.9"/>
<path d="M431.94 351.05L434.44 355.53L429.44 355.53Z" fill="#fff" stroke="#111" stroke-width="0.9"/>
<path d="M450.16 351.78L452.66 356.26L447.66 356.26Z" fill="#fff" stroke="#111" stroke-width="0.9"/>
<path d="M468.38 352.14L470.88 356.63L465.88 356.63Z" fill="#fff" stroke="#111" stroke-width="0.9"/>
<path d="M486.6 350.68L489.1 355.17L484.1 355.17Z" fill="#fff" stroke="#111" stroke-width="0.9"/>
<path d="M504.82 337.18L507.32 341.66L502.32 341.66Z" fill="#fff" stroke="#111" stroke-width="0.9"/>
<path d="M523.04 320.9L525.54 325.38L520.54 325.38Z" fill="#fff" stroke="#111" stroke-width="0.9"/>
<path d="M541.26 311.85L543.76 316.33L538.76 316.33Z" fill="#fff" stroke="#111" stroke-width="0.9"/>
<path d="M559.48 304.8L561.98 309.29L556.98 309.29Z" fill="#fff" stroke="#111" stroke-width="0.9"/>
<path d="M577.7 298.67L580.2 303.16L575.2 303.16Z" fill="#fff" stroke="#111" stroke-width="0.9"/>
<path d="M595.92 297.54L598.42 302.02L593.42 302.02Z" fill="#fff" stroke="#111" stroke-width="0.9"/>
<path d="M614.14 298.23L616.64 302.72L611.64 302.72Z" fill="#fff" stroke="#111" stroke-width="0.9"/>
<path d="M395.5 353.8V355.26M393.1 353.8h4.79M393.1 355.26h4.79M413.72 353.07V354.53M411.32 353.07h4.79M411.32 354.53h4.79M431.94 353.07V354.53M429.54 353.07h4.79M429.54 354.53h4.79M450.16 354.71V356.17M447.76 354.71h4.79M447.76 356.17h4.79M468.38 356.54V358M465.98 356.54h4.79M465.98 358h4.79M486.6 356.83V359.75M484.2 356.83h4.79M484.2 359.75h4.79M504.82 355.11V360.95M502.42 355.11h4.79M502.42 360.95h4.79M523.04 352.23V362.45M520.64 352.23h4.79M520.64 362.45h4.79M541.26 350.51V365.12M538.86 350.51h4.79M538.86 365.12h4.79M559.48 351.25V368.04M557.08 351.25h4.79M557.08 368.04h4.79M577.7 351.32V368.84M575.3 351.32h4.79M575.3 368.84h4.79M595.92 351.61V369.86M593.52 351.61h4.79M593.52 369.86h4.79M614.14 352.78V371.03M611.74 352.78h4.79M611.74 371.03h4.79" stroke="#111" stroke-width="0.8" fill="none"/>
<polyline points="395.5,354.53 413.72,353.8 431.94,353.8 450.16,355.44 468.38,357.27 486.6,358.29 504.82,358.03 523.04,357.34 541.26,357.81 559.48,359.64 577.7,360.08 595.92,360.74 614.14,361.9" fill="none" stroke="#111" stroke-width="0.9"/>
<rect x="392.85" y="351.88" width="5.3" height="5.3" fill="#111"/>
<rect x="411.07" y="351.15" width="5.3" height="5.3" fill="#111"/>
<rect x="429.29" y="351.15" width="5.3" height="5.3" fill="#111"/>
<rect x="447.51" y="352.79" width="5.3" height="5.3" fill="#111"/>
<rect x="465.73" y="354.62" width="5.3" height="5.3" fill="#111"/>
<rect x="483.95" y="355.64" width="5.3" height="5.3" fill="#111"/>
<rect x="502.17" y="355.38" width="5.3" height="5.3" fill="#111"/>
<rect x="520.39" y="354.69" width="5.3" height="5.3" fill="#111"/>
<rect x="538.61" y="355.16" width="5.3" height="5.3" fill="#111"/>
<rect x="556.83" y="356.99" width="5.3" height="5.3" fill="#111"/>
<rect x="575.05" y="357.43" width="5.3" height="5.3" fill="#111"/>
<rect x="593.27" y="358.08" width="5.3" height="5.3" fill="#111"/>
<rect x="611.49" y="359.25" width="5.3" height="5.3" fill="#111"/>
<path d="M395.5 353.07V354.53M393.1 353.07h4.79M393.1 354.53h4.79M413.72 353.07V354.53M411.32 353.07h4.79M411.32 354.53h4.79M431.94 353.07V354.53M429.54 353.07h4.79M429.54 354.53h4.79M450.16 353.44V354.89M447.76 353.44h4.79M447.76 354.89h4.79M468.38 353.44V354.89M465.98 353.44h4.79M465.98 354.89h4.79M486.6 352.12V355.77M484.2 352.12h4.79M484.2 355.77h4.79M504.82 350.62V358.65M502.42 350.62h4.79M502.42 358.65h4.79M523.04 346.57V360.44M520.64 346.57h4.79M520.64 360.44h4.79M541.26 348.69V366.94M538.86 348.69h4.79M538.86 366.94h4.79M559.48 343.43V365.33M557.08 343.43h4.79M557.08 365.33h4.79M577.7 342.27V365.63M575.3 342.27h4.79M575.3 365.63h4.79M595.92 342.7V366.06M593.52 342.7h4.79M593.52 366.06h4.79M614.14 342.34V366.43M611.74 342.34h4.79M611.74 366.43h4.79" stroke="#111" stroke-width="0.8" fill="none"/>
<polyline points="395.5,353.8 413.72,353.8 431.94,353.8 450.16,354.17 468.38,354.17 486.6,353.95 504.82,354.64 523.04,353.51 541.26,357.81 559.48,354.38 577.7,353.95 595.92,354.38 614.14,354.38" fill="none" stroke="#111" stroke-width="0.9"/>
<circle cx="395.5" cy="353.8" r="2.6" fill="#fff" stroke="#111" stroke-width="0.9"/>
<circle cx="413.72" cy="353.8" r="2.6" fill="#fff" stroke="#111" stroke-width="0.9"/>
<circle cx="431.94" cy="353.8" r="2.6" fill="#fff" stroke="#111" stroke-width="0.9"/>
<circle cx="450.16" cy="354.17" r="2.6" fill="#fff" stroke="#111" stroke-width="0.9"/>
<circle cx="468.38" cy="354.17" r="2.6" fill="#fff" stroke="#111" stroke-width="0.9"/>
<circle cx="486.6" cy="353.95" r="2.6" fill="#fff" stroke="#111" stroke-width="0.9"/>
<circle cx="504.82" cy="354.64" r="2.6" fill="#fff" stroke="#111" stroke-width="0.9"/>
<circle cx="523.04" cy="353.51" r="2.6" fill="#fff" stroke="#111" stroke-width="0.9"/>
<circle cx="541.26" cy="357.81" r="2.6" fill="#fff" stroke="#111" stroke-width="0.9"/>
<circle cx="559.48" cy="354.38" r="2.6" fill="#fff" stroke="#111" stroke-width="0.9"/>
<circle cx="577.7" cy="353.95" r="2.6" fill="#fff" stroke="#111" stroke-width="0.9"/>
<circle cx="595.92" cy="354.38" r="2.6" fill="#fff" stroke="#111" stroke-width="0.9"/>
<circle cx="614.14" cy="354.38" r="2.6" fill="#fff" stroke="#111" stroke-width="0.9"/>
<text class="st" x="522.9" y="314.8" text-anchor="middle">**</text>
<text class="st" x="541" y="296.6" text-anchor="middle">**</text>
<text class="st" x="559.2" y="287.8" text-anchor="middle">**</text>
<text class="st" x="577.4" y="283" text-anchor="middle">**</text>
<text class="st" x="596" y="281" text-anchor="middle">**</text>
<text class="st" x="614.1" y="279.6" text-anchor="middle">**</text>
<text class="st" x="522.9" y="335.9" text-anchor="middle">**</text>
<text class="st" x="541" y="328.4" text-anchor="middle">**</text>
<text class="st" x="559.2" y="322.7" text-anchor="middle">**</text>
<text class="st" x="577.4" y="317.3" text-anchor="middle">**</text>
<text class="st" x="596" y="316.6" text-anchor="middle">**</text>
<text class="st" x="614.1" y="317.3" text-anchor="middle">**</text>
<path d="M632 249.9h8" stroke="#111" stroke-width="0.9"/>
<path d="M632.87 249.9L636 247.24L639.13 249.9L636 252.56Z" fill="#fff" stroke="#111" stroke-width="0.9"/>
<text class="lg" x="644.8" y="252.15">SAL</text>
<path d="M632 260.4h8" stroke="#111" stroke-width="0.9"/>
<rect x="633.53" y="257.93" width="4.94" height="4.94" fill="#111"/>
<text class="lg" x="644.8" y="262.65">KET20</text>
<path d="M632 271.3h8" stroke="#111" stroke-width="0.9"/>
<path d="M636 268.06L638.94 273.34L633.06 273.34Z" fill="#fff" stroke="#111" stroke-width="0.9"/>
<text class="lg" x="644.8" y="273.55">OLA3</text>
<path d="M632 281.7h8" stroke="#111" stroke-width="0.9"/>
<rect x="633.62" y="279.32" width="4.75" height="4.75" fill="#cfcfcf" stroke="#111" stroke-width="0.9"/>
<text class="lg" x="644.8" y="283.95">OLA3+KET20</text>
</g>
</svg>
</body></html>
